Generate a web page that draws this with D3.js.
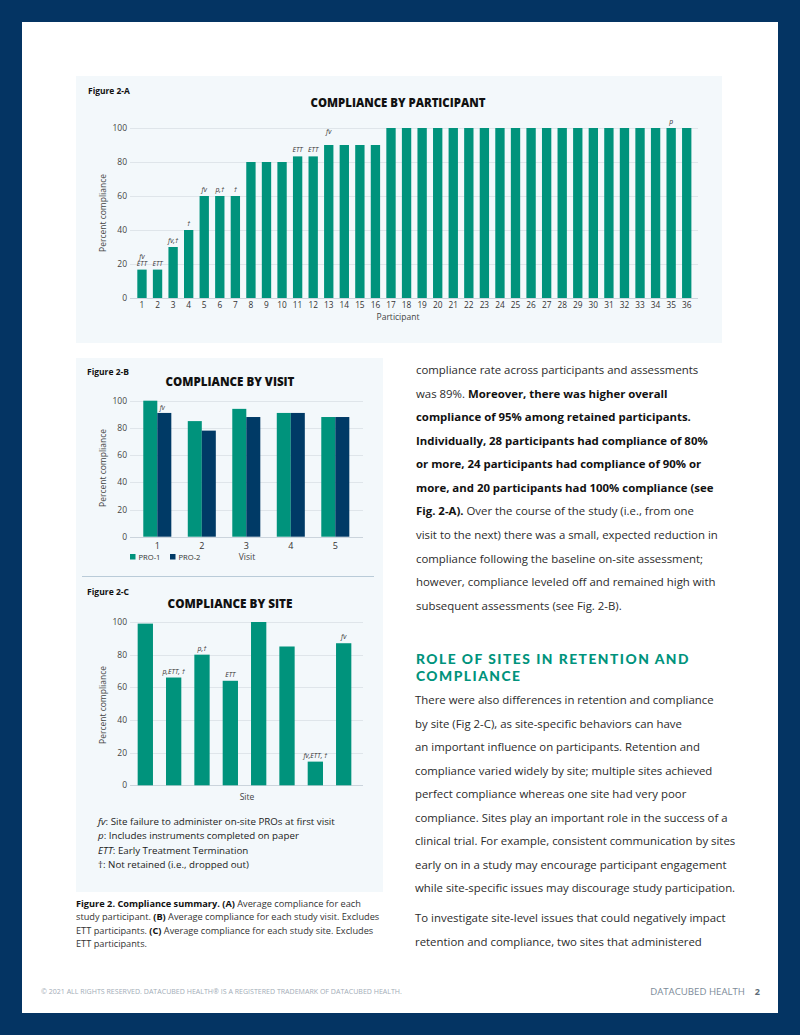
<!DOCTYPE html>
<html><head><meta charset="utf-8">
<script src="https://cdn.jsdelivr.net/npm/d3@7"></script>
<style>body{margin:0;background:#043463;overflow:hidden}svg{display:block}</style>
</head><body><svg id="c" width="800" height="1035"></svg>
<script>
// ---------- DATA ----------
const participants = ["1","2","3","4","5","6","7","8","9","10","11","12","13","14","15","16","17","18","19","20","21","22","23","24","25","26","27","28","29","30","31","32","33","34","35","36"];
const participantCompliance = [16.7,16.7,30,40,60,60,60,80,80,80,83.3,83.3,90,90,90,90,100,100,100,100,100,100,100,100,100,100,100,100,100,100,100,100,100,100,100,100];
const participantNotes = ["fv|ETT","ETT","fv,†","†","fv","p,†","†","","","","ETT","ETT","fv|","","","","","","","","","","","","","","","","","","","","","","p",""];

const visits = ["1","2","3","4","5"];
const visitSeries = ["PRO-1","PRO-2"];
const pro1Compliance = [100,85,94,91,88];
const pro2Compliance = [91,78,88,91,88];
const pro2Notes = ["fv","","","",""];

const sites = ["S1","S2","S3","S4","S5","S6","S7","S8"];
const siteCompliance = [99,66,80,64,100,85,14.5,87];
const siteNotes = ["","p,ETT, †","p,†","ETT","","","fv,ETT, †","fv"];

const yTicks = [0,20,40,60,80,100];

const footnotes = [["fv",": Site failure to administer on-site PROs at first visit"],["p",": Includes instruments completed on paper"],["ETT",": Early Treatment Termination"],["","†: Not retained (i.e., dropped out)"]];

// ---------- STYLE ----------
const TEAL = "#00937c", NAVY = "#003a66", PANEL = "#f3f8fb", GRID = "#dfe5ea";
const FONT = "'Open Sans', 'Noto Sans', sans-serif";

const svg = d3.select("#c").style("font-family", FONT);
svg.append("rect").attr("x",0).attr("y",0).attr("width",800).attr("height",1035).attr("fill","#043463");
svg.append("rect").attr("x",22).attr("y",22).attr("width",756).attr("height",991).attr("fill","#fff");
svg.append("rect").attr("x",76).attr("y",76).attr("width",646).attr("height",267).attr("fill",PANEL);
svg.append("rect").attr("x",76).attr("y",358).attr("width",307).attr("height",534).attr("fill",PANEL);
svg.append("line").attr("x1",82).attr("x2",374).attr("y1",576.5).attr("y2",576.5).attr("stroke","#b9cbd8").attr("stroke-width",1);

// fit a text element's font size so its rendered width equals target
function fitSize(sel, target) {
  const base = +sel.attr("font-size");
  const w = sel.node().getComputedTextLength();
  const s = w > 0 ? base * target / w : base;
  sel.attr("font-size", s);
  return s;
}

function text(g, x, y, s, o = {}) {
  const t = g.append("text").attr("x",x).attr("y",y).text(s)
    .attr("font-size",o.size||9).attr("fill",o.fill||"#333")
    .attr("font-weight",o.weight||"normal").attr("font-style",o.style||"normal")
    .attr("text-anchor",o.anchor||"start");
  if (o.fit) fitSize(t, o.fit);
  return t;
}

function yAxis(y, x0, x1, labelX, ylabX, yMid) {
  const g = svg.append("g");
  g.selectAll("line.grid").data(yTicks).join("line")
    .attr("x1",x0).attr("x2",x1).attr("y1",d=>Math.round(y(d))+0.5).attr("y2",d=>Math.round(y(d))+0.5)
    .attr("stroke",d=>d===0?"#cbd4dc":GRID).attr("stroke-width",1);
  g.selectAll("text.tick").data(yTicks).join("text")
    .attr("x",labelX).attr("y",d=>y(d)+3).attr("text-anchor","end")
    .attr("font-size",8.5).attr("fill","#444").text(d=>d);
  const t = g.append("text").attr("transform",`translate(${ylabX},${yMid}) rotate(-90)`)
    .attr("text-anchor","middle").attr("font-size",9).attr("fill","#444").text("Percent compliance");
  fitSize(t, 78);
}

function notes(g, data, xf, yf, w) {
  data.forEach((n,i) => {
    if (!n) return;
    const lines = n.split("|");
    const top = yf(i);
    lines.reverse().forEach((ln, k) => {
      if (!ln) return;
      g.append("text").attr("x", xf(i) + w/2).attr("y", top - 4 - k*7)
        .attr("text-anchor","middle").attr("font-size",6.8).attr("font-style","italic").attr("fill","#333").text(ln);
    });
  });
}

// ---------- FIGURE 2-A ----------
{
  const x = d3.scaleBand().domain(participants).range([134.2, 694.5]).paddingInner(0.4).paddingOuter(0.2);
  const y = d3.scaleLinear().domain([0,100]).range([298, 128]);
  text(svg, 88, 94, "Figure 2-A", {size:8, weight:"bold", fill:"#111", fit:42});
  text(svg, 398, 107, "COMPLIANCE BY PARTICIPANT", {size:10.5, weight:"800", fill:"#111", anchor:"middle", fit:175});
  yAxis(y, 130, 698, 127, 106, 213);
  const g = svg.append("g");
  g.selectAll("rect").data(participantCompliance).join("rect")
    .attr("x",(d,i)=>x(participants[i])).attr("width",x.bandwidth())
    .attr("y",d=>y(d)).attr("height",d=>y(0)-y(d)).attr("fill",TEAL);
  g.selectAll("text.xl").data(participants).join("text")
    .attr("x",d=>x(d)+x.bandwidth()/2).attr("y",307.5).attr("text-anchor","middle")
    .attr("font-size",8.3).attr("fill","#333").text(d=>d);
  notes(g, participantNotes, i=>x(participants[i]), i=>y(participantCompliance[i]), x.bandwidth());
  text(svg, 398, 319.5, "Participant", {size:8.5, fill:"#444", anchor:"middle"});
}

// ---------- FIGURE 2-B ----------
{
  const x0 = d3.scaleBand().domain(visits).range([135.05, 357.55]).paddingInner(0.37).paddingOuter(0.185);
  const x1 = d3.scaleBand().domain(visitSeries).range([0, x0.bandwidth()]);
  const y = d3.scaleLinear().domain([0,100]).range([536.7, 400.7]);
  text(svg, 87, 375, "Figure 2-B", {size:8, weight:"bold", fill:"#111", fit:42});
  text(svg, 230, 386, "COMPLIANCE BY VISIT", {size:10.5, weight:"800", fill:"#111", anchor:"middle", fit:129});
  yAxis(y, 130, 363, 127, 106, 468);
  const g = svg.append("g");
  const series = [pro1Compliance, pro2Compliance];
  const colors = d3.scaleOrdinal().domain(visitSeries).range([TEAL, NAVY]);
  series.forEach((vals, s) => {
    g.selectAll("rect.s"+s).data(vals).join("rect")
      .attr("x",(d,i)=>x0(visits[i]) + x1(visitSeries[s])).attr("width",x1.bandwidth())
      .attr("y",d=>y(d)).attr("height",d=>y(0)-y(d)).attr("fill",colors(visitSeries[s]));
  });
  pro2Notes.forEach((n,i)=>{
    if(!n) return;
    g.append("text").attr("x",x0(visits[i])+x1("PRO-2")+2.5).attr("y",y(pro2Compliance[i])-3)
      .attr("font-size",6.5).attr("font-style","italic").attr("fill","#333").text(n);
  });
  g.selectAll("text.xl").data(visits).join("text")
    .attr("x",d=>x0(d)+x0.bandwidth()/2).attr("y",549).attr("text-anchor","middle")
    .attr("font-size",9).attr("fill","#333").text(d=>d);
  // legend
  visitSeries.forEach((s,k)=>{
    const lx = [130,170][k];
    svg.append("rect").attr("x",lx).attr("y",554).attr("width",5.5).attr("height",5.5).attr("fill",colors(s));
    text(svg, lx+8.5, 559.5, s, {size:7.5, fill:"#333", fit:22});
  });
  text(svg, 247, 560, "Visit", {size:8.5, fill:"#444", anchor:"middle"});
}

// ---------- FIGURE 2-C ----------
{
  const x = d3.scaleBand().domain(sites).range([131.15, 357.85]).paddingInner(0.46).paddingOuter(0.23);
  const y = d3.scaleLinear().domain([0,100]).range([785.3, 622]);
  text(svg, 87, 595, "Figure 2-C", {size:8, weight:"bold", fill:"#111", fit:42});
  text(svg, 230, 608, "COMPLIANCE BY SITE", {size:10.5, weight:"800", fill:"#111", anchor:"middle", fit:125});
  yAxis(y, 130, 363, 127, 106, 705);
  const g = svg.append("g");
  g.selectAll("rect").data(siteCompliance).join("rect")
    .attr("x",(d,i)=>x(sites[i])).attr("width",x.bandwidth())
    .attr("y",d=>y(d)).attr("height",d=>y(0)-y(d)).attr("fill",TEAL);
  notes(g, siteNotes, i=>x(sites[i]), i=>y(siteCompliance[i]), x.bandwidth());
  text(svg, 247, 800, "Site", {size:8.5, fill:"#444", anchor:"middle"});
}

// footnotes
let fnSize = null;
footnotes.forEach((f,i)=>{
  const t = svg.append("text").attr("x",98).attr("y",824.5+i*14.5).attr("font-size",8.5).attr("fill","#222");
  if (f[0]) t.append("tspan").attr("font-style","italic").text(f[0]);
  t.append("tspan").text(f[1]);
  if (i===0) fnSize = fitSize(t, 237); else t.attr("font-size", fnSize);
});

// multi-segment line helper
function richLines(lines, x, y0, dy, size, color, boldColor, fitIdx, fitW) {
  const els = lines.map((ln,i)=>{
    const t = svg.append("text").attr("x",x).attr("y",y0+i*dy).attr("font-size",size).attr("fill",color);
    ln.forEach(([s,b])=>t.append("tspan").attr("font-weight",b?"bold":"normal").attr("fill",b?boldColor:color).text(s));
    return t;
  });
  const s = fitSize(els[fitIdx], fitW);
  els.forEach(e=>e.attr("font-size", s));
  return s;
}

// caption
richLines([
  [["Figure 2. Compliance summary. (A)",1],[" Average compliance for each",0]],
  [["study participant. ",0],["(B)",1],[" Average compliance for each study visit. Excludes",0]],
  [["ETT participants. ",0],["(C)",1],[" Average compliance for each study site. Excludes",0]],
  [["ETT participants.",0]]
], 76, 906.5, 13.6, 8.2, "#333", "#111", 1, 303);

// right column
const bodySize = richLines([
  [["compliance rate across participants and assessments",0]],
  [["was 89%. ",0],["Moreover, there was higher overall",1]],
  [["compliance of 95% among retained participants.",1]],
  [["Individually, 28 participants had compliance of 80%",1]],
  [["or more, 24 participants had compliance of 90% or",1]],
  [["more, and 20 participants had 100% compliance (see",1]],
  [["Fig. 2-A).",1],[" Over the course of the study (i.e., from one",0]],
  [["visit to the next) there was a small, expected reduction in",0]],
  [["compliance following the baseline on-site assessment;",0]],
  [["however, compliance leveled off and remained high with",0]],
  [["subsequent assessments (see Fig. 2-B).",0]]
], 416, 374, 23.57, 11, "#2b2b2b", "#111", 9, 300);

// heading: Lato Black (compact line box), tracked out to match width
{
  const headLines = ["ROLE OF SITES IN RETENTION AND", "COMPLIANCE"];
  const hs = headLines.map((s,i)=> svg.append("text").attr("x",416).attr("y",[663.5,680.5][i])
    .attr("font-family","Lato, 'Open Sans', sans-serif").attr("font-size",13.8)
    .attr("font-weight","900").attr("fill","#00937c").text(s));
  const w = hs[0].node().getComputedTextLength();
  const ls = (274 - w) / headLines[0].length;
  hs.forEach(h=>h.attr("letter-spacing", ls));
}

function plainLines(lines, x, y0, dy) {
  lines.forEach((s,i)=>{
    svg.append("text").attr("x",x).attr("y",y0+i*dy).attr("font-size",bodySize).attr("fill","#2b2b2b").text(s);
  });
}
plainLines([
  "There were also differences in retention and compliance",
  "by site (Fig 2-C), as site-specific behaviors can have",
  "an important influence on participants. Retention and",
  "compliance varied widely by site; multiple sites achieved",
  "perfect compliance whereas one site had very poor",
  "compliance. Sites play an important role in the success of a",
  "clinical trial. For example, consistent communication by sites",
  "early on in a study may encourage participant engagement",
  "while site-specific issues may discourage study participation."
], 415, 704, 23.5);
plainLines([
  "To investigate site-level issues that could negatively impact",
  "retention and compliance, two sites that administered"
], 415, 922, 24.4);

// footer
text(svg, 41, 994, "© 2021 ALL RIGHTS RESERVED. DATACUBED HEALTH® IS A REGISTERED TRADEMARK OF DATACUBED HEALTH.", {size:6, fill:"#a3adb7", fit:362});
text(svg, 745, 995, "DATACUBED HEALTH", {size:9, fill:"#7d8b99", anchor:"end", fit:95});
text(svg, 760, 995, "2", {size:9, weight:"bold", fill:"#5d6b78", anchor:"end"});
</script></body></html>
